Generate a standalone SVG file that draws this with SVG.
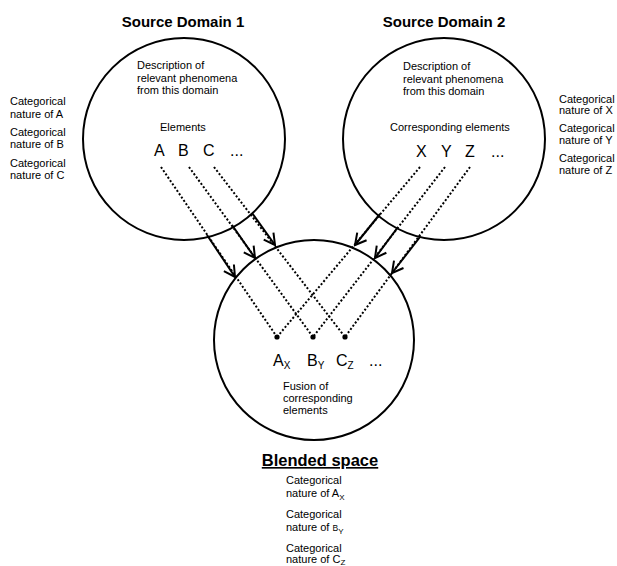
<svg xmlns="http://www.w3.org/2000/svg" width="617" height="566" viewBox="0 0 617 566">
<defs>
<style>
text{font-family:"Liberation Sans",Arial,sans-serif;fill:#000}
.t{font-size:11px}
.h{font-size:15px;font-weight:bold}
.big{font-size:16px}
.sub{font-size:10px}
.c{fill:none;stroke:#000;stroke-width:2}
.d{fill:none;stroke:#000;stroke-width:2;stroke-dasharray:2 2}
.a{fill:none;stroke:#000;stroke-width:2;marker-end:url(#ah)}
</style>
<marker id="ah" markerUnits="userSpaceOnUse" markerWidth="16" markerHeight="16" refX="12" refY="7" orient="auto" viewBox="0 0 16 14">
<path d="M1,1 L12,7 L1,13" fill="none" stroke="#000" stroke-width="2"/>
</marker>
</defs>
<g id="source1">
<text class="h" x="183" y="27" text-anchor="middle">Source Domain 1</text>
<circle class="c" cx="184" cy="139" r="101"/>
<text class="t" x="137" y="69">Description of</text>
<text class="t" x="137" y="82">relevant phenomena</text>
<text class="t" x="137" y="94">from this domain</text>
<text class="t" x="160" y="131">Elements</text>
<text class="big" x="154" y="156">A</text>
<text class="big" x="178" y="156">B</text>
<text class="big" x="203" y="156">C</text>
<text class="big" x="230" y="156">...</text>
</g>
<g id="source1-labels">
<text class="t" x="10" y="105">Categorical</text>
<text class="t" x="10" y="117.5">nature of A</text>
<text class="t" x="10" y="136">Categorical</text>
<text class="t" x="10" y="148">nature of B</text>
<text class="t" x="10" y="166.5">Categorical</text>
<text class="t" x="10" y="179">nature of C</text>
</g>
<g id="source2">
<text class="h" x="444" y="27" text-anchor="middle">Source Domain 2</text>
<circle class="c" cx="444" cy="139" r="101"/>
<text class="t" x="403" y="70">Description of</text>
<text class="t" x="403" y="83">relevant phenomena</text>
<text class="t" x="403" y="95">from this domain</text>
<text class="t" x="390" y="131">Corresponding elements</text>
<text class="big" x="416" y="157">X</text>
<text class="big" x="441" y="157">Y</text>
<text class="big" x="465" y="157">Z</text>
<text class="big" x="491" y="157">...</text>
</g>
<g id="source2-labels">
<text class="t" x="559" y="102.5">Categorical</text>
<text class="t" x="559" y="114">nature of X</text>
<text class="t" x="559" y="132">Categorical</text>
<text class="t" x="559" y="144">nature of Y</text>
<text class="t" x="559" y="161.5">Categorical</text>
<text class="t" x="559" y="174">nature of Z</text>
</g>
<g id="blended">
<circle class="c" cx="314" cy="340" r="100"/>
<circle cx="277" cy="337" r="2.6"/>
<circle cx="313" cy="337" r="2.6"/>
<circle cx="345" cy="337" r="2.6"/>
<text class="big" x="273" y="366">A<tspan class="sub" dy="3">X</tspan></text>
<text class="big" x="307" y="366">B<tspan class="sub" dy="3">Y</tspan></text>
<text class="big" x="336" y="366">C<tspan class="sub" dy="3">Z</tspan></text>
<text class="big" x="369" y="366">...</text>
<text class="t" x="283" y="390">Fusion of</text>
<text class="t" x="283" y="402">corresponding</text>
<text class="t" x="283" y="414">elements</text>
</g>
<g id="blended-labels">
<text x="320" y="466" text-anchor="middle" style="font-size:16.5px;font-weight:bold;text-decoration:underline">Blended space</text>
<text class="t" x="286" y="484">Categorical</text>
<text class="t" x="286" y="496.5">nature of A<tspan style="font-size:8px" dy="3">X</tspan></text>
<text class="t" x="286" y="518">Categorical</text>
<text class="t" x="286" y="530.5">nature of <tspan style="font-size:8.5px">B</tspan><tspan style="font-size:8px" dy="3">Y</tspan></text>
<text class="t" x="286" y="552">Categorical</text>
<text class="t" x="286" y="562.5">nature of C<tspan style="font-size:8px" dy="2">Z</tspan></text>
</g>
<g id="connectors">
<line class="d" x1="161" y1="167" x2="277" y2="337"/>
<line class="d" x1="189" y1="167" x2="313" y2="337"/>
<line class="d" x1="214" y1="167" x2="345" y2="337"/>
<line class="d" x1="420" y1="167" x2="277" y2="337"/>
<line class="d" x1="445" y1="167" x2="313" y2="337"/>
<line class="d" x1="470" y1="167" x2="345" y2="337"/>
<line class="a" x1="207" y1="235" x2="235" y2="277"/>
<line class="a" x1="232" y1="225" x2="255" y2="258"/>
<line class="a" x1="252" y1="213" x2="275" y2="245"/>
<line class="a" x1="380" y1="214" x2="355" y2="245"/>
<line class="a" x1="398" y1="227" x2="375" y2="258"/>
<line class="a" x1="420" y1="237" x2="392" y2="273"/>
</g>
</svg>
